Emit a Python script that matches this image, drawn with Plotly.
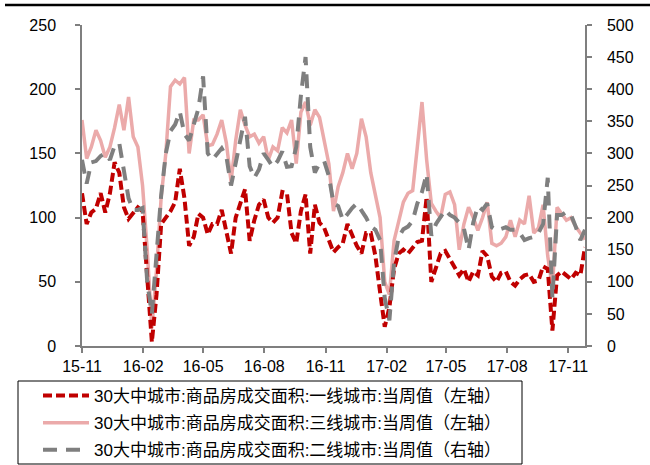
import pandas as pd
import plotly.graph_objects as go

# weekly dates
start_date = "2015-11-01"
n_weeks = 109
dates = pd.date_range(start_date, periods=n_weeks, freq="7D")

# 一线城市 (left axis)
tier1 = [119, 95, 104, 107, 119, 104, 119, 143, 135, 108, 99, 104, 108, 105, 55, 3, 40, 95,
         100, 105, 112, 138, 115, 78, 85, 103, 100, 87, 95, 95, 106, 90, 72, 100, 112, 122,
         82, 98, 110, 114, 100, 96, 100, 120, 119, 88, 80, 105, 118, 72, 110, 96, 92, 82,
         73, 77, 80, 95, 86, 78, 72, 88, 88, 70, 42, 15, 30, 60, 72, 75, 72, 77, 81, 82,
         116, 50, 60, 72, 74, 68, 62, 55, 60, 50, 58, 55, 74, 70, 54, 50, 57, 58, 50, 47,
         52, 55, 56, 50, 51, 62, 60, 12, 55, 58, 55, 52, 57, 55, 77]

# 三线城市 (left axis)
tier3 = [176, 146, 155, 168, 160, 147, 155, 170, 188, 168, 194, 163, 155, 125, 75, 14, 59, 116,
         150, 202, 207, 204, 209, 150, 176, 176, 180, 156, 157, 165, 176, 158, 128, 160, 184, 172,
         163, 165, 158, 163, 145, 155, 152, 170, 166, 176, 142, 182, 190, 172, 184, 178, 160, 142,
         105, 124, 135, 150, 138, 150, 177, 163, 135, 118, 100, 50, 40, 82, 96, 112, 119, 121,
         155, 190, 145, 111, 105, 100, 118, 120, 110, 75, 95, 108, 100, 90, 100, 112, 80, 78,
         80, 85, 98, 85, 98, 95, 117, 88, 92, 110, 70, 45, 108, 103, 98, 100, 93, 88, 83]

# 二线城市 (right axis)
tier2 = [290, 253, 286, 288, 296, 300, 290, 312, 316, 270, 230, 212, 212, 215, 100, 50, 140, 235,
         300, 335, 345, 365, 330, 320, 345, 370, 420, 300, 290, 298, 308, 295, 250, 285, 325, 357,
         280, 262, 275, 300, 290, 279, 288, 303, 279, 280, 310, 390, 450, 310, 270, 285, 288, 265,
         222, 218, 196, 206, 215, 222, 212, 200, 186, 181, 165, 75, 40, 130, 170, 182, 186, 195,
         222, 240, 268, 172, 190, 200, 212, 204, 200, 192, 183, 150, 192, 218, 212, 222, 185, 180,
         183, 185, 181, 181, 176, 165, 168, 170, 176, 190, 262, 75, 204, 204, 209, 204, 186, 165, 181]

x_tick_vals = ["2015-11-01", "2016-02-01", "2016-05-01", "2016-08-01", "2016-11-01",
               "2017-02-01", "2017-05-01", "2017-08-01", "2017-11-01"]
x_tick_text = ["15-11", "16-02", "16-05", "16-08", "16-11", "17-02", "17-05", "17-08", "17-11"]

names = ["30大中城市:商品房成交面积:一线城市:当周值（左轴）",
         "30大中城市:商品房成交面积:三线城市:当周值（左轴）",
         "30大中城市:商品房成交面积:二线城市:当周值（右轴）"]

FONT = "Liberation Sans, Arial, Noto Sans CJK SC"

fig = go.Figure()
fig.add_trace(go.Scatter(x=dates, y=tier3, name=names[1], mode="lines",
                         line=dict(color="#EBAAAA", width=3.5), legendrank=2, legendgroup="b"))
fig.add_trace(go.Scatter(x=dates, y=tier1, name=names[0], mode="lines",
                         line=dict(color="#C00000", width=4, dash="9px,4px"), legendrank=1,
                         legendgroup="a"))
fig.add_trace(go.Scatter(x=dates, y=tier2, name=names[2], mode="lines", yaxis="y2",
                         line=dict(color="#7F7F7F", width=4, dash="14px,9px"), legendrank=3,
                         legendgroup="c"))

axis_common = dict(showgrid=False, zeroline=False, showline=True, linecolor="#7F7F7F",
                   linewidth=1.5, ticks="outside", tickcolor="#7F7F7F", tickwidth=1.5,
                   tickfont=dict(family=FONT, size=16, color="#000000"))

fig.update_layout(
    width=650, height=465,
    margin=dict(l=82, r=65, t=25, b=119, autoexpand=False),
    paper_bgcolor="white", plot_bgcolor="white",
    font=dict(family=FONT, color="#000000"),
    xaxis=dict(type="date", range=[dates[0], dates[-1]], tickvals=x_tick_vals,
               ticktext=x_tick_text, ticklen=5, ticklabelstandoff=0, **axis_common),
    yaxis=dict(range=[0, 250], dtick=50, ticklen=5, ticklabelstandoff=16, **axis_common),
    yaxis2=dict(range=[0, 500], dtick=50, ticklen=5, overlaying="y", side="right",
                ticklabelstandoff=12, **axis_common),
    showlegend=True,
    legend=dict(x=(38 - 82) / 503, y=(346 - 378) / 321, xanchor="left", yanchor="top",
                bgcolor="rgba(0,0,0,0)", borderwidth=0, itemwidth=46,
                tracegroupgap=2, traceorder="grouped",
                font=dict(family=FONT, size=17, color="#000000")),
    shapes=[
        dict(type="rect", xref="paper", yref="paper",
             x0=(18 - 82) / 503, x1=(522 - 82) / 503,
             y0=(346 - 381) / 321, y1=(346 - 464) / 321,
             line=dict(color="#000000", width=1), fillcolor="rgba(0,0,0,0)"),
        dict(type="line", xref="paper", yref="paper",
             x0=(5 - 82) / 503, x1=(650 - 82) / 503,
             y0=(346 - 5) / 321, y1=(346 - 5) / 321,
             line=dict(color="#000000", width=2.5)),
    ],
)

fig.write_html("out.html", config={"displayModeBar": False},
               post_script="document.body.style.margin='0px';")
